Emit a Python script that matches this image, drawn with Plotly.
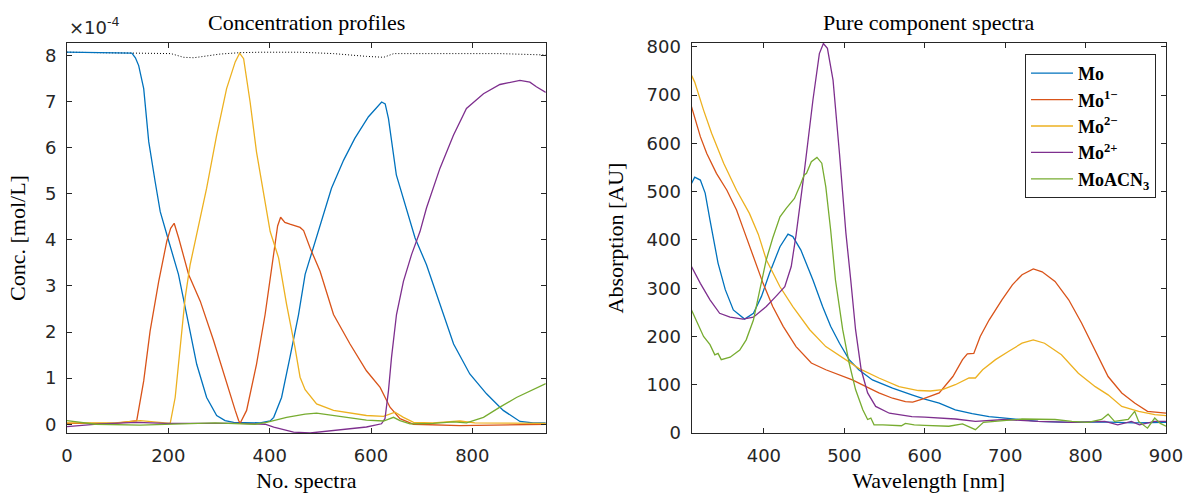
import plotly.graph_objects as go

# ---------------- concentration profiles (units of 1e-4 mol/L) ----------------
mo_n = [0, 56, 128, 135, 141.5, 151.4, 161.3, 174, 184, 199, 220, 240, 256, 275.6, 295.4, 312, 329,
        381, 401, 408, 423.5, 440, 457, 470, 490, 522, 546, 568, 595, 621, 628, 634.5, 650, 670,
        687, 709.5, 736, 763, 795, 828, 861, 894, 920, 945]
mo_c = [8.07, 8.06, 8.05, 7.95, 7.78, 7.28, 6.13, 5.26, 4.61, 4.04, 3.25, 2.17, 1.30, 0.58, 0.19, 0.08, 0.04,
        0.03, 0.07, 0.15, 0.58, 1.45, 2.38, 3.25, 3.96, 5.12, 5.73, 6.20, 6.67, 6.99, 6.95, 6.63, 5.41, 4.69,
        4.04, 3.46, 2.60, 1.74, 1.09, 0.66, 0.30, 0.06, 0.03, 0.03]

m1_n = [0, 95, 137.6, 151.4, 164, 181, 197, 204.6, 211.5, 216.5, 220.4, 240, 263, 289.4, 315, 332, 338.7,
        341.7, 354.5, 374, 391, 408, 415.7, 421.6, 430, 440, 450, 460, 467, 480, 499.5, 526, 558.6, 591,
        618, 637.5, 657.2, 684, 775.5, 945]
m1_c = [0.02, 0.02, 0.08, 0.94, 2.02, 3.10, 3.97, 4.25, 4.36, 4.20, 4.04, 3.25, 2.67, 1.81, 0.87, 0.30, 0.08,
        0.02, 0.30, 1.30, 2.38, 3.75, 4.30, 4.49, 4.38, 4.34, 4.30, 4.27, 4.20, 3.82, 3.32, 2.38, 1.74, 1.16,
        0.80, 0.37, 0.12, 0.00, -0.03, 0.00]

m2_n = [0, 95, 144.5, 194, 203.7, 213.5, 223.4, 233.2, 243, 256, 275.6, 295.4, 315, 332, 340.7, 348.6,
        361.4, 374, 388, 401, 417.6, 433.4, 450, 460, 470, 492.6, 526, 558.6, 591, 624.7, 647.4, 664,
        684, 723, 775.5, 805, 945]
m2_c = [0.03, 0.03, 0.08, 0.02, 0.02, 0.58, 1.66, 2.74, 3.46, 4.10, 5.12, 6.27, 7.28, 7.86, 8.05, 7.93,
        6.99, 5.91, 5.05, 4.18, 3.61, 2.60, 1.66, 1.02, 0.75, 0.44, 0.30, 0.24, 0.19, 0.17, 0.26, 0.15,
        0.04, 0.03, 0.07, 0.03, 0.02]

mp_n = [0, 65.6, 137.6, 194, 341.7, 391, 408, 447.2, 480, 526, 558.6, 591, 620.7, 627.6, 634.5, 640.5,
        650.3, 664, 680, 696.7, 709.5, 736, 762.7, 788.4, 822, 854.4, 894, 913.6, 926.4, 945]
mp_c = [-0.05, 0.01, 0.04, 0.02, 0.02, 0.00, -0.06, -0.17, -0.19, -0.14, -0.10, -0.06, 0.01, 0.12, 0.73, 1.45,
        2.38, 3.10, 3.68, 4.18, 4.69, 5.55, 6.27, 6.85, 7.17, 7.37, 7.46, 7.42, 7.32, 7.20]

ma_n = [0, 30, 56, 144.5, 194, 292, 371, 394, 433.4, 460, 470, 492.6, 526, 558.6, 591, 624.7, 644.4,
        657.2, 677, 723, 762.7, 788.4, 822, 854.4, 887, 945]
ma_c = [0.08, 0.04, 0.00, -0.02, 0.00, 0.03, 0.00, 0.04, 0.15, 0.21, 0.22, 0.24, 0.19, 0.14, 0.09, 0.07, 0.15,
        0.08, 0.01, 0.02, 0.05, 0.03, 0.15, 0.37, 0.58, 0.88]

tot_n = [0, 128, 205, 230, 250, 270, 302, 341, 381, 460, 526, 591, 625, 645, 723, 854, 945]
tot_c = [8.07, 8.05, 8.04, 7.96, 7.95, 7.98, 8.03, 8.06, 8.07, 8.07, 8.04, 7.98, 7.96, 8.04, 8.04, 8.04, 8.01]

# ---------------- pure component spectra ----------------
mo_wl = [310, 314, 321, 327, 333, 337, 343, 352, 362, 376, 387, 397, 407, 420, 430, 436, 446, 461, 473, 483,
         494, 506, 518, 535, 560, 584, 600, 618, 638, 659, 680, 700, 721, 741, 780, 820, 860, 900]
mo_a = [517, 530, 524, 497, 441, 405, 352, 297, 255, 236, 248, 283, 331, 386, 412, 407, 379, 317, 262, 221,
        186, 152, 131, 110, 93, 79, 70, 62, 48, 40, 34, 31, 28, 24, 22, 23, 21, 22]

m1_wl = [310, 312, 321, 329, 341, 354, 366, 374, 387, 399, 411, 424, 440, 459, 477, 494, 510, 527, 543, 560,
         576, 585, 597, 618, 635, 647, 653, 661, 669, 680, 696, 709, 721, 735, 746, 762, 779, 795, 812, 828,
         845, 861, 877, 900]
m1_a = [676, 665, 614, 579, 538, 503, 462, 425, 365, 310, 262, 221, 179, 145, 131, 121, 110, 96, 83, 72,
        65, 64, 70, 83, 117, 152, 164, 165, 200, 234, 276, 307, 328, 340, 334, 314, 276, 228, 172, 117,
        83, 62, 45, 41]

m2_wl = [310, 314, 325, 335, 350, 366, 382, 393, 403, 420, 436, 457, 477, 498, 518, 543, 568, 592, 607, 622,
         638, 655, 663, 672, 688, 704, 721, 735, 749, 770, 791, 812, 828, 845, 866, 886, 900]
m2_a = [741, 727, 669, 621, 559, 503, 455, 412, 359, 303, 262, 214, 179, 155, 134, 114, 96, 88, 87, 90,
        100, 114, 114, 131, 152, 169, 186, 193, 186, 162, 124, 96, 79, 55, 45, 38, 36]

mp_wl = [310, 321, 333, 345, 358, 374, 387, 403, 415, 426, 434, 440, 450, 461, 469, 474, 479, 486, 494, 502,
         508, 514, 521, 529, 539, 556, 584, 600, 638, 663, 700, 741, 783, 824, 840, 857, 867, 886, 900]
mp_a = [345, 310, 276, 248, 240, 236, 240, 262, 283, 303, 345, 410, 538, 690, 786, 807, 797, 731, 579, 414,
        317, 214, 131, 83, 55, 41, 34, 33, 29, 24, 28, 24, 22, 24, 17, 24, 17, 24, 24]

ma_wl = [310, 316, 325, 333, 339, 343, 347, 358, 370, 378, 387, 395, 403, 411, 420, 428, 438, 446, 450, 453,
         459, 466, 472, 477, 481, 483, 489, 498, 506, 514, 523, 529, 533, 537, 548, 571, 576, 587, 600, 630,
         647, 663, 673, 700, 721, 762, 783, 803, 820, 828, 836, 853, 861, 866, 877, 886, 893, 900]
ma_a = [255, 234, 200, 183, 162, 165, 152, 157, 172, 193, 234, 297, 359, 404, 448, 466, 486, 517, 534, 538,
        562, 571, 559, 510, 455, 421, 317, 214, 145, 90, 48, 28, 31, 17, 17, 15, 20, 17, 16, 14,
        19, 7, 22, 26, 29, 28, 24, 22, 28, 39, 24, 28, 45, 24, 10, 31, 20, 14]

names = ["<b>Mo</b>", "<b>Mo<sup>1\u2212</sup></b>", "<b>Mo<sup>2\u2212</sup></b>",
         "<b>Mo<sup>2+</sup></b>", "<b>MoACN<sub>3</sub></b>"]
colors = ["#0072BD", "#D95319", "#EDB120", "#7E2F8E", "#77AC30"]

profiles = [(mo_n, mo_c), (m1_n, m1_c), (m2_n, m2_c), (mp_n, mp_c), (ma_n, ma_c)]
spectra = [(mo_wl, mo_a), (m1_wl, m1_a), (m2_wl, m2_a), (mp_wl, mp_a), (ma_wl, ma_a)]

W, H = 1185, 493
L, R, T, B = 67, 19, 43, 60
PW = W - L - R
PH = H - T - B

def px_x(p):
    return (p - L) / PW

def px_y(p):
    return 1 - (p - T) / PH

fig = go.Figure()

# total concentration (dotted) drawn first so the components overlay it
fig.add_trace(go.Scatter(x=tot_n, y=tot_c, mode="lines",
                         line=dict(color="#000000", width=1, dash="1px,2px"),
                         showlegend=False, xaxis="x", yaxis="y"))
for (xs, ys), c in zip(profiles, colors):
    fig.add_trace(go.Scatter(x=xs, y=ys, mode="lines", line=dict(color=c, width=1.3),
                             showlegend=False, xaxis="x", yaxis="y"))
for (xs, ys), c, n in zip(spectra, colors, names):
    fig.add_trace(go.Scatter(x=xs, y=ys, mode="lines", line=dict(color=c, width=1.3), name=n,
                             xaxis="x2", yaxis="y2"))

axcol = "#262626"
serif = "Liberation Serif"
tickfont = dict(family="DejaVu Sans", size=18, color=axcol)
titlefont = dict(family=serif, size=22, color="#000")
common = dict(showline=True, linecolor=axcol, linewidth=1, mirror="ticks", ticks="inside", ticklen=5,
              tickcolor=axcol, tickwidth=1, showgrid=False, zeroline=False, tickfont=tickfont,
              ticklabelstandoff=6, ticklabeloverflow="allow", automargin=False)

left_dom = [0, px_x(545.8)]
right_dom = [px_x(691.5), 1]

fig.update_layout(
    width=W, height=H,
    margin=dict(l=L, r=R, t=T, b=B),
    paper_bgcolor="white", plot_bgcolor="white",
    font=dict(family=serif, size=22, color="#000"),
    xaxis=dict(domain=left_dom, range=[0, 945], tickvals=[0, 200, 400, 600, 800], anchor="y",
               title=dict(text="No. spectra", font=titlefont, standoff=21), **common),
    yaxis=dict(domain=[0, 1], range=[-0.19, 8.27], tickvals=list(range(0, 9)), anchor="x",
               title=dict(text="Conc. [mol/L]", font=titlefont, standoff=13), **common),
    xaxis2=dict(domain=right_dom, range=[310, 900], tickvals=[400, 500, 600, 700, 800, 900], anchor="y2",
                title=dict(text="Wavelength [nm]", font=titlefont, standoff=21), **common),
    yaxis2=dict(domain=[0, 1], range=[0, 808], tickvals=list(range(0, 801, 100)), anchor="x2",
                title=dict(text="Absorption [AU]", font=titlefont, standoff=16), **common),
    legend=dict(x=px_x(1156), y=px_y(54), xanchor="right", yanchor="top",
                bgcolor="white", bordercolor=axcol, borderwidth=1,
                font=dict(family=serif, size=18, color="#000"), itemwidth=42, tracegroupgap=0),
    annotations=[
        dict(text="Concentration profiles", x=(left_dom[0] + left_dom[1]) / 2, y=px_y(23),
             xref="paper", yref="paper", xanchor="center", yanchor="middle", showarrow=False,
             font=titlefont),
        dict(text="Pure component spectra", x=(right_dom[0] + right_dom[1]) / 2, y=px_y(23),
             xref="paper", yref="paper", xanchor="center", yanchor="middle", showarrow=False,
             font=titlefont),
        dict(text="\u00d710<sup>-4</sup>", x=px_x(67), y=px_y(40), xref="paper", yref="paper",
             xanchor="left", yanchor="bottom", showarrow=False,
             font=dict(family="DejaVu Sans", size=18, color=axcol)),
    ],
)

fig.write_html("out.html")
